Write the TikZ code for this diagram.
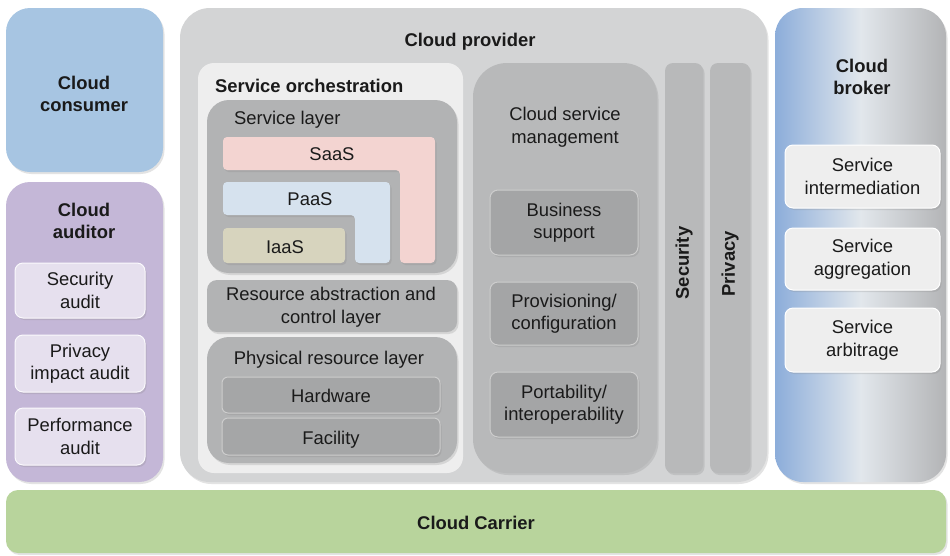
\documentclass[tikz,border=0pt]{standalone}
\usepackage{fontspec}
\setmainfont{Liberation Sans}
\usetikzlibrary{shadows,fit}
\definecolor{consumerc}{HTML}{A7C5E2}
\definecolor{auditorc}{HTML}{C4B7D7}
\definecolor{auditboxc}{HTML}{E6E0EE}
\definecolor{providerc}{HTML}{D3D4D5}
\definecolor{orchc}{HTML}{EEEEEE}
\definecolor{layerc}{HTML}{B2B3B4}
\definecolor{saasc}{HTML}{F3D4D1}
\definecolor{paasc}{HTML}{D6E2EE}
\definecolor{iaasc}{HTML}{D7D4BE}
\definecolor{hwc}{HTML}{A5A6A7}
\definecolor{csmc}{HTML}{B8B9BA}
\definecolor{innerc}{HTML}{A4A5A6}
\definecolor{edgec}{HTML}{CDCDCD}
\definecolor{brokerl}{HTML}{8CADDA}
\definecolor{brokerm}{HTML}{E2E7EC}
\definecolor{brokerr}{HTML}{B3B4B6}
\definecolor{brokerboxc}{HTML}{EEEEEE}
\definecolor{carrierc}{HTML}{B8D49C}
\definecolor{txt}{HTML}{1A1A1A}
\begin{document}
\begin{tikzpicture}[x=1pt,y=-1pt,
  font=\fontsize{18.4}{22.5}\selectfont, text=txt,
  area/.style={inner sep=0pt, outer sep=0pt, draw=none},
  shd/.style={drop shadow={opacity=0.22,shadow xshift=1.5pt,shadow yshift=-2pt}},
  lbl/.style={align=center, inner sep=0pt},
  blbl/.style={align=center, inner sep=0pt, font=\fontsize{18.4}{22.5}\selectfont\bfseries},
  inbox/.style={area, draw=edgec, line width=1pt, rounded corners=8pt, shd}]
\useasboundingbox (0,0) rectangle (950,555);
\fill[white] (0,0) rectangle (950,555);

% Cloud consumer
\node[area, fit={(6,8) (163,172)}, fill=consumerc, rounded corners=24pt, shd] (consumer) {};
\node[blbl] (consumerl) at (84,94) {Cloud\\consumer};

% Cloud auditor
\node[area, fit={(6,182) (163,482)}, fill=auditorc, rounded corners=24pt, shd] (auditor) {};
\node[blbl] (auditorl) at (84,221) {Cloud\\auditor};
\node[inbox, draw=white!80!auditboxc, fill=auditboxc, fit={(15,263) (145,318)}] (secaudit) {};
\node[lbl] (secauditl) at (secaudit.center) {Security\\audit};
\node[inbox, draw=white!80!auditboxc, fill=auditboxc, fit={(15,335) (145,392)}] (privaudit) {};
\node[lbl] (privauditl) at (privaudit.center) {Privacy\\impact audit};
\node[inbox, draw=white!80!auditboxc, fill=auditboxc, fit={(15,408) (145,465)}] (perfaudit) {};
\node[lbl] (perfauditl) at (perfaudit.center) {Performance\\audit};

% Cloud provider
\node[area, fit={(180,8) (767,482)}, fill=providerc, rounded corners=30pt, shd] (provider) {};
\node[blbl] (providerl) at (470,42) {Cloud provider};

% Service orchestration
\node[area, fit={(198,63) (463,473)}, fill=orchc, rounded corners=16pt] (orch) {};
\node[blbl, anchor=west] (orchl) at (215,86) {Service orchestration};

% Service layer
\node[area, fit={(207,100) (457,273)}, fill=layerc, rounded corners=22pt, shd] (slayer) {};
\node[lbl, anchor=west] (slayerl) at (234,120) {Service layer};
\filldraw[fill=saasc, draw=none, rounded corners=4pt, shd]
  (223,137) -- (435,137) -- (435,263) -- (400,263) -- (400,170) -- (223,170) -- cycle;
\node[lbl] (saas) at (332,154) {SaaS};
\filldraw[fill=paasc, draw=none, rounded corners=4pt, shd]
  (223,182) -- (390,182) -- (390,263) -- (355,263) -- (355,215) -- (223,215) -- cycle;
\node[lbl] (paas) at (310,199) {PaaS};
\node[area, fit={(223,228) (345,263)}, fill=iaasc, rounded corners=4pt, shd] (iaasb) {};
\node[lbl] (iaas) at (285,247) {IaaS};

% Resource abstraction
\node[area, fit={(207,280) (457,332)}, fill=layerc, rounded corners=10pt, shd] (resabs) {};
\node[lbl] (resabsl) at (331,307) {Resource abstraction and\\control layer};

% Physical resource layer
\node[area, fit={(207,337) (457,463)}, fill=layerc, rounded corners=22pt, shd] (phys) {};
\node[lbl] (physl) at (329,360) {Physical resource layer};
\node[inbox, fill=hwc, rounded corners=6pt, fit={(222,377) (440,413)}] (hw) {};
\node[lbl] (hwl) at (331,396) {Hardware};
\node[inbox, fill=hwc, rounded corners=6pt, fit={(222,418) (440,455)}] (fac) {};
\node[lbl] (facl) at (331,440) {Facility};

% Cloud service management
\node[area, fit={(473,63) (657,473)}, fill=csmc, rounded corners=34pt, shd] (csm) {};
\node[lbl] (csml) at (565,127) {Cloud service\\management};
\node[inbox, fill=innerc, fit={(490,190) (638,255)}] (bs) {};
\node[lbl] (bsl) at (bs.center) {Business\\support};
\node[inbox, fill=innerc, fit={(490,282) (638,345)}] (prov) {};
\node[lbl] (provl) at (prov.center) {Provisioning/\\configuration};
\node[inbox, fill=innerc, fit={(490,372) (638,437)}] (port) {};
\node[lbl] (portl) at (port.center) {Portability/\\interoperability};

% Security / Privacy bars
\node[area, fit={(665,63) (703,473)}, fill=csmc, rounded corners=8pt, shd] (sec) {};
\node[blbl, rotate=90] (secl) at (684,263) {Security};
\node[area, fit={(710,63) (750,473)}, fill=csmc, rounded corners=8pt, shd] (priv) {};
\node[blbl, rotate=90] (privl) at (730,264) {Privacy};

% Cloud broker
\node[area, fit={(775,8) (946,482)}, left color=brokerl, right color=brokerr, middle color=brokerm, rounded corners=28pt, shd] (broker) {};
\node[blbl] (brokerlb) at (862,77) {Cloud\\broker};
\node[inbox, draw=white, fill=brokerboxc, fit={(785,145) (940,208)}] (inter) {};
\node[lbl] (interl) at (inter.center) {Service\\intermediation};
\node[inbox, draw=white, fill=brokerboxc, fit={(785,228) (940,290)}] (aggr) {};
\node[lbl] (aggrl) at (aggr.center) {Service\\aggregation};
\node[inbox, draw=white, fill=brokerboxc, fit={(785,308) (940,372)}] (arb) {};
\node[lbl] (arbl) at (arb.center) {Service\\arbitrage};

% Cloud carrier
\node[area, fit={(6,490) (946,553)}, fill=carrierc, rounded corners=12pt, shd] (carrier) {};
\node[blbl] (carrierl) at (476,523) {Cloud Carrier};
\end{tikzpicture}
\end{document}
